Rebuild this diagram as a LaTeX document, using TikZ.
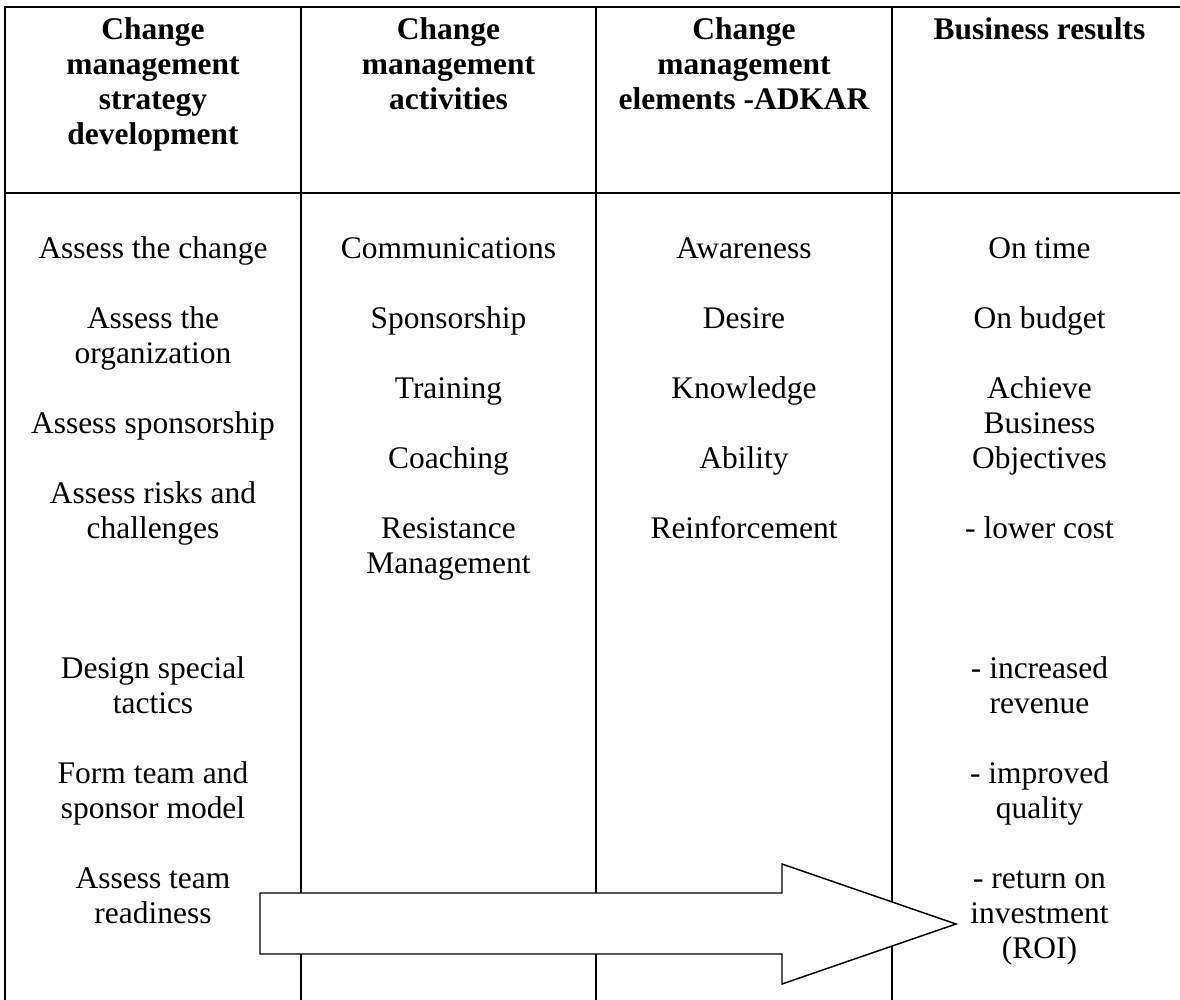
\documentclass[tikz,border=0pt]{standalone}
\usepackage{fontspec}
\setmainfont{Liberation Serif}
\begin{document}
\begin{tikzpicture}[x=0.75pt,y=-0.75pt,
  tbl/.style={line width=1.5pt, line cap=rect},
  txt/.style={anchor=north, align=center, inner sep=0pt, font=\fontsize{23.6pt}{26.25pt}\selectfont},
  hdr/.style={anchor=north, align=center, inner sep=0pt, font=\fontsize{23.6pt}{26.25pt}\selectfont\bfseries},
  bigarrow/.style={draw, fill=white, line width=1.1pt, line join=miter}]
\useasboundingbox (0,0) rectangle (1180,999);
% table grid
\draw[tbl] (5,1010) -- (5,7) -- (1195,7);
\draw[tbl] (5,193) -- (1195,193);
\draw[tbl] (301,7) -- (301,1010);
\draw[tbl] (596,7) -- (596,1010);
\draw[tbl] (892,7) -- (892,1010);
% headers
\node[hdr] (h1) at (153,14.5) {\strut Change\\management\\strategy\\development};
\node[hdr] (h2) at (448.5,14.5) {\strut Change\\management\\activities};
\node[hdr] (h3) at (744,14.5) {\strut Change\\management\\elements -ADKAR};
\node[hdr] (h4) at (1039.5,14.5) {\strut Business results};
% column 1
\node[txt] (c1a) at (153,234) {\strut Assess the change};
\node[txt] (c1b) at (153,304) {\strut Assess the\\organization};
\node[txt] (c1c) at (153,409) {\strut Assess sponsorship};
\node[txt] (c1d) at (153,479) {\strut Assess risks and\\challenges};
\node[txt] (c1e) at (153,654) {\strut Design special\\tactics};
\node[txt] (c1f) at (153,759) {\strut Form team and\\sponsor model};
\node[txt] (c1g) at (153,864) {\strut Assess team\\readiness};
% column 2
\node[txt] (c2a) at (448.5,234) {\strut Communications};
\node[txt] (c2b) at (448.5,304) {\strut Sponsorship};
\node[txt] (c2c) at (448.5,374) {\strut Training};
\node[txt] (c2d) at (448.5,444) {\strut Coaching};
\node[txt] (c2e) at (448.5,514) {\strut Resistance\\Management};
% column 3
\node[txt] (c3a) at (744,234) {\strut Awareness};
\node[txt] (c3b) at (744,304) {\strut Desire};
\node[txt] (c3c) at (744,374) {\strut Knowledge};
\node[txt] (c3d) at (744,444) {\strut Ability};
\node[txt] (c3e) at (744,514) {\strut Reinforcement};
% column 4
\node[txt] (c4a) at (1039.5,234) {\strut On time};
\node[txt] (c4b) at (1039.5,304) {\strut On budget};
\node[txt] (c4c) at (1039.5,374) {\strut Achieve\\Business\\Objectives};
\node[txt] (c4d) at (1039.5,514) {\strut - lower cost};
\node[txt] (c4e) at (1039.5,654) {\strut - increased\\revenue};
\node[txt] (c4f) at (1039.5,759) {\strut - improved\\quality};
\node[txt] (c4g) at (1039.5,864) {\strut - return on\\investment\\(ROI)};
% block arrow
\draw[bigarrow] (260,893) -- (782,893) -- (782,864) -- (956,924) -- (782,984) -- (782,954) -- (260,954) -- cycle;
\end{tikzpicture}
\end{document}
